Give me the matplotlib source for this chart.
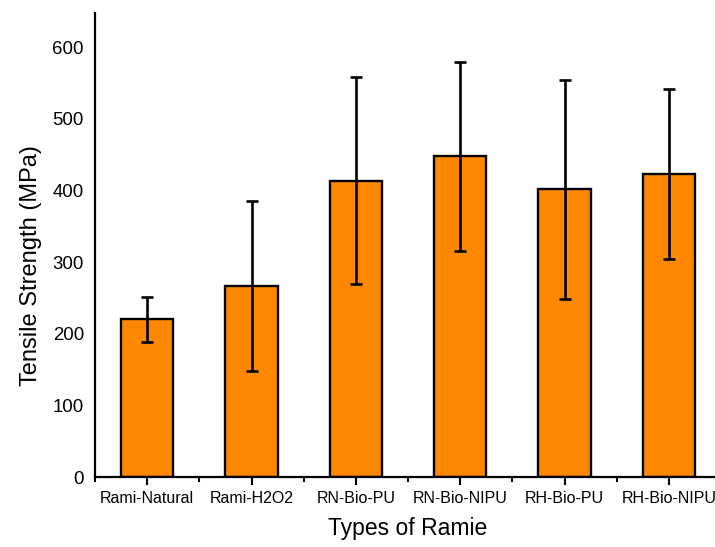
import numpy as np
import matplotlib
matplotlib.use("Agg")
import matplotlib.pyplot as plt
from matplotlib.ticker import FixedLocator, NullFormatter

plt.rcParams['font.family'] = ['Liberation Sans', 'DejaVu Sans']

# tensile strength of ramie fibres (MPa), mean and standard deviation
types = ['Rami-Natural', 'Rami-H2O2', 'RN-Bio-PU', 'RN-Bio-NIPU', 'RH-Bio-PU', 'RH-Bio-NIPU']
strength = [220, 267, 414, 448, 402, 423]
sd = [31, 119, 144, 132, 153, 119]

fig = plt.figure(figsize=(7.15, 5.47), dpi=100)
ax = fig.add_axes([95 / 715, 70 / 547, 626 / 715, 464 / 547])

x = np.arange(len(types))
ax.bar(x, strength, width=0.5, color='#ff8800', edgecolor='black', linewidth=1.7, zorder=2)
ax.errorbar(x, strength, yerr=sd, fmt='none', ecolor='black', elinewidth=1.9,
            capsize=4.2, capthick=1.9, zorder=3)

ax.set_xlim(-0.5, len(types) - 0.5)
ax.set_ylim(0, 648)
ax.set_yticks(range(0, 700, 100))

ax.set_xticks(x)
ax.set_xticklabels(types, fontsize=11.5)
ax.xaxis.set_minor_locator(FixedLocator(np.arange(-0.5, len(types), 1.0)))
ax.xaxis.set_minor_formatter(NullFormatter())
ax.tick_params(axis='x', which='major', direction='out', length=6, width=1.5, pad=4)
ax.tick_params(axis='x', which='minor', direction='out', length=3.5, width=1.5)
ax.tick_params(axis='y', length=0, pad=8, labelsize=13.4)

for side in ['top', 'right']:
    ax.spines[side].set_visible(False)
for side in ['left', 'bottom']:
    ax.spines[side].set_linewidth(1.6)

ax.set_xlabel('Types of Ramie', fontsize=16.5, labelpad=8)
ax.set_ylabel('Tensile Strength (MPa)', fontsize=17)
ax.yaxis.set_label_coords(-0.085, 0.455)

fig.savefig('out.png', dpi=100)
